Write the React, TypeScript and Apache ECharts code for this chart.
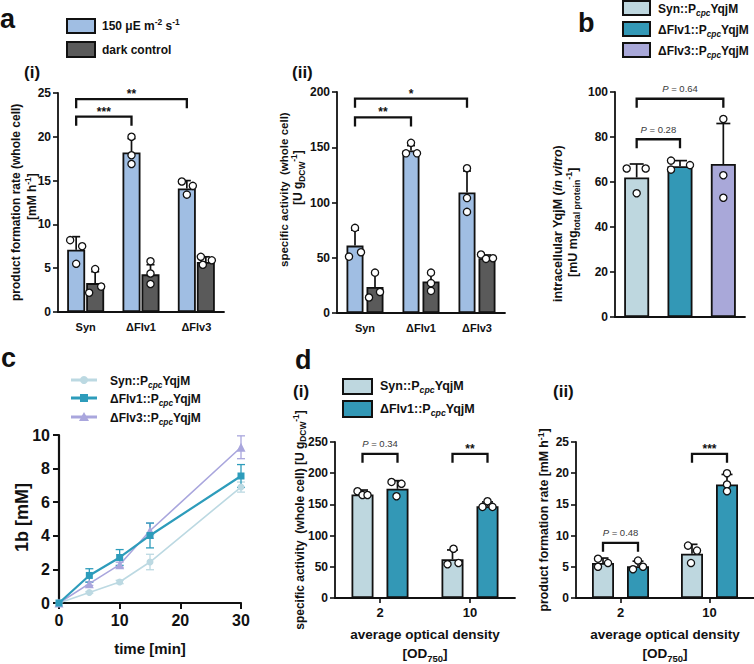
import React, { useEffect, useRef } from 'react';
import * as echarts from 'echarts';

const FONT = '"Liberation Sans", Arial, Helvetica, sans-serif';
const INK = '#111111';

// ---------------- data ----------------
const strains = ['Syn', 'ΔFlv1', 'ΔFlv3'];

// a(i) product formation rate (whole cell) [mM h-1]
const rateLight = [7.1, 18.2, 14.1];
const rateLightSd = [1.5, 1.6, 0.9];
const rateLightPts = [[8.2, 5.5, 7.5], [20.0, 17.9, 16.9], [14.9, 13.4, 14.4]];
const rateDark = [3.3, 4.3, 5.7];
const rateDarkSd = [1.3, 1.1, 0.6];
const rateDarkPts = [[2.2, 4.9, 2.9], [5.8, 4.4, 3.2], [6.3, 5.4, 5.9]];

// a(ii) specific activity (whole cell) [U gDCW-1]
const specLight = [61, 147, 109];
const specLightSd = [14, 4.5, 19.5];
const specLightPts = [[51, 77, 55], [144.5, 154, 144.5], [131, 104, 91.5]];
const specDark = [23.5, 28.5, 49.5];
const specDarkSd = [12.5, 8, 3];
const specDarkPts = [[14, 36.5, 19], [36.5, 27, 20], [53, 49, 49.5]];

// b intracellular YqjM (in vitro) [mU mg total protein-1]
const yqjmStrains = ['Syn::PcpcYqjM', 'ΔFlv1::PcpcYqjM', 'ΔFlv3::PcpcYqjM'];
const yqjm = [62, 67, 68];
const yqjmSd = [6, 2.5, 18];
const yqjmPts = [[66, 55, 66], [69.5, 65.5, 67.5], [88, 63, 53]];

// c time course 1b [mM]
const timeMin = [0, 5, 10, 15, 30];
const c1bSyn = [0, 0.63, 1.25, 2.44, 6.9];
const c1bSynSd = [0, 0.05, 0.1, 0.46, 0.3];
const c1bFlv1 = [0, 1.64, 2.71, 4.02, 7.56];
const c1bFlv1Sd = [0, 0.4, 0.47, 0.74, 0.68];
const c1bFlv3 = [0, 1.15, 2.28, 4.3, 9.27];
const c1bFlv3Sd = [0, 0.1, 0.15, 0.45, 0.68];

// d average optical density
const odLevels = ['2', '10'];
const dSpecSyn = [166, 62];
const dSpecSynSd = [7, 15];
const dSpecSynPts = [[171, 165, 165], [54, 79, 56]];
const dSpecFlv1 = [175, 147];
const dSpecFlv1Sd = [13, 7];
const dSpecFlv1Pts = [[186, 163, 183], [146, 155, 146]];
const dRateSyn = [5.6, 7.1];
const dRateSynSd = [0.8, 1.5];
const dRateSynPts = [[6.3, 5.0, 5.6], [8.4, 7.6, 5.6]];
const dRateFlv1 = [5.1, 18.2];
const dRateFlv1Sd = [0.8, 1.6];
const dRateFlv1Pts = [[4.6, 6.0, 5.0], [20.0, 18.2, 17.1]];

// ---------------- styles ----------------
const C_LIGHT = '#a0bee3';
const C_DARK = '#5a5a5a';
const C_SYN = '#bed7df';
const C_FLV1 = '#3398b6';
const C_FLV3 = '#a9a8d9';
const L_SYN = '#bcd9e2';
const L_FLV1 = '#2d9cbb';
const L_FLV3 = '#a9a6dd';

// horizontal jitter of replicate dots (px)
const JIT_A1_L = [[-6, 0, 6], [0, 0, 0], [-5, 0, 6]];
const JIT_A1_D = [[-6, 0, 6], [0, 0, 0], [-5, -3, 6]];
const JIT_A2_L = [[-6, 0, 6], [-5, 0, 6], [0, 0, 0]];
const JIT_A2_D = [[-6, 0, 5], [0, 0, 0], [-6, -1, 6]];
const JIT_B = [[-10, 0, 9], [-9, -9, 10], [0, 0, 0]];
const JIT_D1_S = [[-5, 0, 5], [-5, 1, 6]];
const JIT_D1_F = [[-6, -1, 4], [-5, 0, 5]];
const JIT_D2_S = [[-5, -5, 5], [-4, 5, -1]];
const JIT_D2_F = [[-5, 0, 5], [0, 0, 0]];

const richFor = (size: number, color = INK, weight: any = 'bold') => {
  const small = Math.round(size * 0.7 * 10) / 10;
  return {
    sup: { fontFamily: FONT, fontWeight: weight, fontSize: small, lineHeight: small, verticalAlign: 'top', color, fill: color },
    sub: { fontFamily: FONT, fontWeight: weight, fontSize: small, lineHeight: small, verticalAlign: 'bottom', color, fill: color },
    subi: { fontFamily: FONT, fontWeight: weight, fontStyle: 'italic', fontSize: small, lineHeight: small, verticalAlign: 'bottom', color, fill: color },
    it: { fontFamily: FONT, fontWeight: weight, fontStyle: 'italic', fontSize: size, color, fill: color },
  };
};

type Group = { values: number[]; sd: number[]; pts: number[][]; jit: number[][]; colors: string[] };
type Bracket = { a: [number, number]; b: [number, number]; y: number; label: string; stars: boolean };

function barPanel(gi: number, groups: Group[], barW: number, gapPx: number, capW: number, brackets: Bracket[]) {
  const n = groups.length;
  const offs = groups.map((_, k) => (k - (n - 1) / 2) * (barW + gapPx));
  const out: any[] = [];
  groups.forEach((g) => {
    out.push({
      type: 'bar', xAxisIndex: gi, yAxisIndex: gi, barWidth: barW,
      barGap: `${(gapPx / barW) * 100}%`, z: 2, silent: true,
      data: g.values.map((v, i) => ({ value: v, itemStyle: { color: g.colors[i] } })),
      itemStyle: { borderColor: INK, borderWidth: 1.8 },
    });
  });
  groups.forEach((g, k) => {
    const items = g.values.map((v, i) => [i, v, v + g.sd[i]]);
    out.push({
      type: 'custom', xAxisIndex: gi, yAxisIndex: gi, z: 3, silent: true,
      data: items.map((d) => [d[0], d[1]]),
      renderItem: (params: any, api: any) => {
        const it = items[params.dataIndex];
        const p0 = api.coord([it[0], it[1]]);
        const p1 = api.coord([it[0], it[2]]);
        const x = p0[0] + offs[k];
        const st = { stroke: INK, lineWidth: 1.7 };
        return {
          type: 'group', children: [
            { type: 'line', shape: { x1: x, y1: p0[1], x2: x, y2: p1[1] }, style: st },
            { type: 'line', shape: { x1: x - capW / 2, y1: p1[1], x2: x + capW / 2, y2: p1[1] }, style: st },
          ],
        };
      },
    });
  });
  groups.forEach((g, k) => {
    const items: number[][] = [];
    g.pts.forEach((arr, i) => arr.forEach((v, j) => items.push([i, v, g.jit[i][j]])));
    out.push({
      type: 'custom', xAxisIndex: gi, yAxisIndex: gi, z: 4, silent: true,
      data: items.map((d) => [d[0], d[1]]),
      renderItem: (params: any, api: any) => {
        const d = items[params.dataIndex];
        const p = api.coord([d[0], d[1]]);
        return {
          type: 'circle', shape: { cx: p[0] + offs[k] + d[2], cy: p[1], r: 3.6 },
          style: { fill: '#ffffff', stroke: INK, lineWidth: 1.3 },
        };
      },
    });
  });
  out.push({
    type: 'custom', xAxisIndex: gi, yAxisIndex: gi, z: 5, silent: true,
    data: brackets.map((b) => [b.a[0], b.y]),
    renderItem: (params: any, api: any) => {
      const b = brackets[params.dataIndex];
      const pa = api.coord([b.a[0], b.y]);
      const pb = api.coord([b.b[0], b.y]);
      const x1 = pa[0] + offs[b.a[1]];
      const x2 = pb[0] + offs[b.b[1]];
      const y = pa[1];
      const drop = 9;
      const textStyle: any = b.stars
        ? { text: b.label, fontFamily: FONT, fontWeight: 'bold', fontSize: 12, fill: INK }
        : { text: b.label, fontFamily: FONT, fontWeight: 'normal', fontSize: 9.5, fill: '#3a3a3a', rich: richFor(9.5, '#3a3a3a', 'normal') };
      return {
        type: 'group', children: [
          {
            type: 'polyline', shape: { points: [[x1, y + drop], [x1, y], [x2, y], [x2, y + drop]] },
            style: { stroke: INK, lineWidth: 2.3, fill: 'none' },
          },
          {
            type: 'text', x: (x1 + x2) / 2, y: b.stars ? y - 5 : y - 10,
            style: { ...textStyle, textAlign: 'center', textVerticalAlign: 'middle' },
          },
        ],
      };
    },
  });
  return out;
}

const lineSets = [
  { name: 'Syn::PcpcYqjM', vals: c1bSyn, sd: c1bSynSd, color: L_SYN, symbol: 'circle', size: 7, width: 1.6, z: 6 },
  { name: 'ΔFlv3::PcpcYqjM', vals: c1bFlv3, sd: c1bFlv3Sd, color: L_FLV3, symbol: 'triangle', size: 9, width: 1.6, z: 7 },
  { name: 'ΔFlv1::PcpcYqjM', vals: c1bFlv1, sd: c1bFlv1Sd, color: L_FLV1, symbol: 'rect', size: 7, width: 2.2, z: 8 },
];

function lineSeries() {
  const out: any[] = [];
  lineSets.forEach((s) => {
    const items = timeMin.map((t, i) => [t, s.vals[i], s.sd[i]]);
    out.push({
      type: 'custom', xAxisIndex: 3, yAxisIndex: 3, z: s.z - 3, silent: true,
      data: items.map((d) => [d[0], d[1]]),
      renderItem: (params: any, api: any) => {
        const d = items[params.dataIndex];
        if (!d[2]) return { type: 'group', children: [] };
        const lo = api.coord([d[0], d[1] - d[2]]);
        const hi = api.coord([d[0], d[1] + d[2]]);
        const st = { stroke: s.color, lineWidth: 1.3 };
        const cw = 4;
        return {
          type: 'group', children: [
            { type: 'line', shape: { x1: lo[0], y1: lo[1], x2: hi[0], y2: hi[1] }, style: st },
            { type: 'line', shape: { x1: hi[0] - cw, y1: hi[1], x2: hi[0] + cw, y2: hi[1] }, style: st },
            { type: 'line', shape: { x1: lo[0] - cw, y1: lo[1], x2: lo[0] + cw, y2: lo[1] }, style: st },
          ],
        };
      },
    });
    out.push({
      type: 'line', name: s.name, xAxisIndex: 3, yAxisIndex: 3, z: s.z, silent: true,
      data: timeMin.map((t, i) => [t, s.vals[i]]),
      symbol: s.symbol, symbolSize: s.size, showSymbol: true,
      lineStyle: { color: s.color, width: s.width },
      itemStyle: { color: s.color, borderWidth: 0 },
    });
  });
  return out;
}

// ---------------- axes ----------------
const axisLine = { show: true, onZero: false, lineStyle: { color: INK, width: 1.8 } };
const axisLineC = { show: true, onZero: false, lineStyle: { color: INK, width: 2.2 } };
const tick = (len: number, w = 1.6) => ({ show: true, length: len, lineStyle: { color: INK, width: w } });
const lab = (size: number, margin: number) => ({
  color: INK, fontFamily: FONT, fontWeight: 'bold', fontSize: size, margin,
});
const nameStyle = (size: number, lh: number) => ({
  color: INK, fontFamily: FONT, fontWeight: 'bold', fontSize: size, lineHeight: lh, rich: richFor(size),
});

function yAx(gi: number, max: number, interval: number, name: string, nameGap: number, size: number, lh: number, labSize: number, labMargin: number, line: any = axisLine, tk: any = tick(5)) {
  return {
    type: 'value', gridIndex: gi, min: 0, max, interval,
    axisLine: line, axisTick: tk, splitLine: { show: false },
    axisLabel: lab(labSize, labMargin),
    name, nameLocation: 'middle', nameGap, nameRotate: 90, nameMoveOverlap: false,
    nameTextStyle: nameStyle(size, lh),
  };
}

// ---------------- graphic (legends, panel labels, axis titles) ----------------
const T = (x: number, y: number, text: string, size: number, extra: any = {}) => ({
  type: 'text', x, y, silent: true,
  style: {
    text, fontFamily: FONT, fontWeight: 'bold', fontSize: size, fill: INK,
    textAlign: 'left', textVerticalAlign: 'middle', lineHeight: size + 4, rich: richFor(size), ...extra,
  },
});
// vertical (rotated) title: (cx, yStart) = centre line x and lower end where reading starts
const VT = (cx: number, yStart: number, text: string, size: number) => ({
  type: 'text', x: cx, y: yStart, rotation: Math.PI / 2, silent: true,
  style: {
    text, fontFamily: FONT, fontWeight: 'bold', fontSize: size, fill: INK, lineHeight: size + 4,
    textAlign: 'left', textVerticalAlign: 'middle', rich: richFor(size),
  },
});
const box = (x: number, y: number, w: number, h: number, fill: string) => ({
  type: 'rect', silent: true, shape: { x, y, width: w, height: h },
  style: { fill, stroke: INK, lineWidth: 2 },
});
const legLine = (y: number, color: string, marker: any) => ({
  type: 'group', silent: true, children: [
    { type: 'line', shape: { x1: 71, y1: y, x2: 97, y2: y }, style: { stroke: color, lineWidth: 3 } },
    marker,
  ],
});

function buildOption() {
  const series: any[] = [
    ...barPanel(0, [
      { values: rateLight, sd: rateLightSd, pts: rateLightPts, jit: JIT_A1_L, colors: [C_LIGHT, C_LIGHT, C_LIGHT] },
      { values: rateDark, sd: rateDarkSd, pts: rateDarkPts, jit: JIT_A1_D, colors: [C_DARK, C_DARK, C_DARK] },
    ], 18, 1, 8, [
      { a: [0, 0], b: [1, 0], y: 22.3, label: '***', stars: true },
      { a: [0, 0], b: [2, 0], y: 24.3, label: '**', stars: true },
    ]),
    ...barPanel(1, [
      { values: specLight, sd: specLightSd, pts: specLightPts, jit: JIT_A2_L, colors: [C_LIGHT, C_LIGHT, C_LIGHT] },
      { values: specDark, sd: specDarkSd, pts: specDarkPts, jit: JIT_A2_D, colors: [C_DARK, C_DARK, C_DARK] },
    ], 17, 3, 8, [
      { a: [0, 0], b: [1, 0], y: 177, label: '**', stars: true },
      { a: [0, 0], b: [2, 0], y: 194, label: '*', stars: true },
    ]),
    ...barPanel(2, [
      { values: yqjm, sd: yqjmSd, pts: yqjmPts, jit: JIT_B, colors: [C_SYN, C_FLV1, C_FLV3] },
    ], 25, 0, 14, [
      { a: [0, 0], b: [1, 0], y: 79, label: '{it|P} = 0.28', stars: false },
      { a: [0, 0], b: [2, 0], y: 97, label: '{it|P} = 0.64', stars: false },
    ]),
    ...lineSeries(),
    ...barPanel(4, [
      { values: dSpecSyn, sd: dSpecSynSd, pts: dSpecSynPts, jit: JIT_D1_S, colors: [C_SYN, C_SYN] },
      { values: dSpecFlv1, sd: dSpecFlv1Sd, pts: dSpecFlv1Pts, jit: JIT_D1_F, colors: [C_FLV1, C_FLV1] },
    ], 22, 13, 11, [
      { a: [0, 0], b: [0, 1], y: 231, label: '{it|P} = 0.34', stars: false },
      { a: [1, 0], b: [1, 1], y: 231, label: '**', stars: true },
    ]),
    ...barPanel(5, [
      { values: dRateSyn, sd: dRateSynSd, pts: dRateSynPts, jit: JIT_D2_S, colors: [C_SYN, C_SYN] },
      { values: dRateFlv1, sd: dRateFlv1Sd, pts: dRateFlv1Pts, jit: JIT_D2_F, colors: [C_FLV1, C_FLV1] },
    ], 22, 13, 11, [
      { a: [0, 0], b: [0, 1], y: 8.85, label: '{it|P} = 0.48', stars: false },
      { a: [1, 0], b: [1, 1], y: 23.1, label: '***', stars: true },
    ]),
  ];

  const odName = 'average optical density\n[OD{sub|750}]';

  return {
    animation: false,
    backgroundColor: '#ffffff',
    textStyle: { fontFamily: FONT },
    grid: [
      { left: 58, top: 93, width: 166, height: 219 },
      { left: 337, top: 92, width: 168, height: 221 },
      { left: 615, top: 92, width: 130, height: 225 },
      { left: 59, top: 435, width: 182, height: 168 },
      { left: 335, top: 442, width: 180, height: 161 },
      { left: 576, top: 442, width: 184, height: 161 },
    ],
    xAxis: [
      { type: 'category', gridIndex: 0, data: strains, axisLine, axisTick: { show: false }, axisLabel: { ...lab(11, 9), interval: 0 } },
      { type: 'category', gridIndex: 1, data: strains, axisLine, axisTick: { show: false }, axisLabel: { ...lab(11, 9), interval: 0 } },
      { type: 'category', gridIndex: 2, data: yqjmStrains, axisLine, axisTick: { show: false }, axisLabel: { show: false } },
      {
        type: 'value', gridIndex: 3, min: 0, max: 30, interval: 10, axisLine: axisLineC, axisTick: tick(6, 2),
        splitLine: { show: false }, axisLabel: lab(16, 9),
        name: 'time [min]', nameLocation: 'middle', nameGap: 36, nameTextStyle: nameStyle(15, 18),
      },
      {
        type: 'category', gridIndex: 4, data: odLevels, axisLine,
        axisTick: { show: true, alignWithLabel: true, length: 5, lineStyle: { color: INK, width: 1.6 } },
        axisLabel: { ...lab(13, 8), interval: 0 },
        name: odName, nameLocation: 'middle', nameGap: 27, nameTextStyle: nameStyle(13.5, 19),
      },
      {
        type: 'category', gridIndex: 5, data: odLevels, axisLine,
        axisTick: { show: true, alignWithLabel: true, length: 5, lineStyle: { color: INK, width: 1.6 } },
        axisLabel: { ...lab(13, 8), interval: 0 },
        name: odName, nameLocation: 'middle', nameGap: 27, nameTextStyle: nameStyle(13.5, 19),
      },
    ],
    yAxis: [
      yAx(0, 25, 5, '', 18, 11, 17, 12, 7),
      yAx(1, 200, 50, '', 31, 11, 14, 12, 7),
      yAx(2, 100, 20, '', 33, 11, 15, 12, 7),
      yAx(3, 10, 2, '', 28, 15, 18, 16, 9, axisLineC, tick(6, 2)),
      yAx(4, 250, 50, 'specific activity  (whole cell) [U g{sub|DCW}{sup|-1}]', 28, 12, 15, 12, 7),
      yAx(5, 25, 5, 'product formation rate [mM h{sup|-1}]', 25, 12.3, 15, 12, 7),
    ],
    series,
    graphic: [
      // y-axis titles (one element per line, reading upward from yStart)
      VT(15.5, 301, 'product formation rate (whole cell)', 12),
      VT(32, 220, '[mM h{sup|-1}]', 12),
      VT(284, 267, 'specific activity  (whole cell)', 11.5),
      VT(298, 205, '[U g{sub|DCW}{sup|-1}]', 12),
      VT(558, 302, 'intracellular YqjM ({it|in vitro})', 12.5),
      VT(573, 277, '[mU mg{sub|total protein}{sup|-1}]', 12.5),
      VT(22, 552, '1b [mM]', 18),
      // panel letters
      T(0, 19, 'a', 27),
      T(578, 23, 'b', 27),
      T(1, 358, 'c', 27),
      T(295, 360, 'd', 27),
      T(24, 72, '(i)', 17),
      T(292, 72, '(ii)', 17),
      T(293, 391, '(i)', 17),
      T(553, 391, '(ii)', 17),
      // legend a
      box(67, 19, 28, 14, C_LIGHT),
      box(67, 42, 28, 15, C_DARK),
      T(102, 26, '150 μE m{sup|-2} s{sup|-1}', 12),
      T(102, 49.5, 'dark control', 12),
      // legend b
      box(623, 1, 27, 14, C_SYN),
      box(623, 22, 27, 14, C_FLV1),
      box(623, 43, 27, 14, C_FLV3),
      T(658, 9, 'Syn::P{subi|cpc}YqjM', 12),
      T(658, 30, 'ΔFlv1::P{subi|cpc}YqjM', 12),
      T(658, 51, 'ΔFlv3::P{subi|cpc}YqjM', 12),
      // legend c
      legLine(380, L_SYN, { type: 'circle', shape: { cx: 84, cy: 380, r: 4 }, style: { fill: L_SYN } }),
      legLine(398, L_FLV1, { type: 'rect', shape: { x: 80, y: 394, width: 8, height: 8 }, style: { fill: L_FLV1 } }),
      legLine(417, L_FLV3, { type: 'polygon', shape: { points: [[84, 412], [89, 421], [79, 421]] }, style: { fill: L_FLV3 } }),
      T(110, 381, 'Syn::P{subi|cpc}YqjM', 12),
      T(110, 399, 'ΔFlv1::P{subi|cpc}YqjM', 12),
      T(110, 418, 'ΔFlv3::P{subi|cpc}YqjM', 12),
      // legend d
      box(343, 379, 29, 15, C_SYN),
      box(343, 401, 29, 16, C_FLV1),
      T(380, 386, 'Syn::P{subi|cpc}YqjM', 12.5),
      T(380, 409, 'ΔFlv1::P{subi|cpc}YqjM', 12.5),
    ],
  };
}

export default function App() {
  const ref = useRef<HTMLDivElement>(null);
  useEffect(() => {
    if (!ref.current) return;
    const chart = echarts.init(ref.current, undefined, { renderer: 'svg' });
    chart.setOption(buildOption() as any);
    return () => chart.dispose();
  }, []);
  return (
    <div
      ref={ref}
      style={{ position: 'absolute', left: 0, top: 0, width: 754, height: 664, background: '#fff' }}
    />
  );
}
